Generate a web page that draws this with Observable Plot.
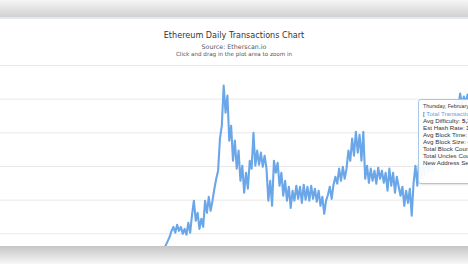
<!DOCTYPE html>
<html>
<head>
<meta charset="utf-8">
<script src="https://cdn.jsdelivr.net/npm/d3@7"></script>
<script src="https://cdn.jsdelivr.net/npm/@observablehq/plot@0.6"></script>
<style>
  html, body { margin: 0; padding: 0; }
  body { width: 468px; height: 264px; overflow: hidden; position: relative; background: #fff; font-family: "DejaVu Sans", sans-serif; }
  #topband { position: absolute; left: 0; top: 0; width: 468px; height: 17px; background: linear-gradient(#f6f6f6, #d0d0d0); }
  #topline { position: absolute; left: 0; top: 17px; width: 468px; height: 2px; background: #e3e8ee; }
  .t { position: absolute; left: 0; width: 468px; text-align: center; white-space: nowrap; color: #333; }
  #title { top: 30px; font-size: 8.1px; line-height: 11px; }
  #sub1 { top: 43px; font-size: 6.3px; line-height: 7px; color: #555; }
  #sub2 { top: 51px; font-size: 5.6px; line-height: 7px; color: #555; }
  #chart { position: absolute; left: 0; top: 60px; }
  #tip { position: absolute; left: 418px; top: 99px; width: 120px; height: 83px; border: 1px solid #a8c6e6; border-radius: 3px; background: rgba(255,255,255,0.94); font-family: "Liberation Sans", Arial, sans-serif; color: #333; box-shadow: 1px 1px 2px rgba(0,0,0,0.12); }
  #tip div { position: absolute; left: 4px; white-space: nowrap; font-size: 6.2px; line-height: 7px; }
  #tip b { font-weight: bold; }
  #botband { position: absolute; left: 0; top: 246px; width: 468px; height: 18px; background: linear-gradient(#c6c6c6, #f7f7f7); }
</style>
</head>
<body>
<div id="topband"></div>
<div id="topline"></div>
<div class="t" id="title">Ethereum Daily Transactions Chart</div>
<div class="t" id="sub1">Source: Etherscan.io</div>
<div class="t" id="sub2">Click and drag in the plot area to zoom in</div>
<div id="chart"></div>
<div id="tip">
  <div style="top:3px;font-size:5.3px;">Thursday, February 6, 2020</div>
  <div style="top:10px;color:#333;">[ <span style="color:#6aa3e0;">Total Transactions: 1,284,313</span> ]</div>
  <div style="top:17px;">Avg Difficulty: <b>5,376.42 TH</b></div>
  <div style="top:24px;">Est Hash Rate: <b>385.37 GH/s</b></div>
  <div style="top:31px;">Avg Block Time: <b>13.43 s</b></div>
  <div style="top:38px;">Avg Block Size: <b>40,613 bytes</b></div>
  <div style="top:45px;">Total Block Count: <b>6,431</b></div>
  <div style="top:52px;">Total Uncles Count: <b>562</b></div>
  <div style="top:59px;">New Address Seen: <b>112,945</b></div>
</div>
<div id="botband"></div>
<script>
// Daily transactions (thousands), sampled every 8 days starting at startDate
const startDate = "2017-04-08";
const stepDays = 8;
const txThousands = [
  109, 124, 138, 168, 198, 228, 272, 302, 258, 317,
  272, 302, 250, 287, 243, 332, 258, 391, 496, 347,
  406, 287, 362, 302, 496, 406, 525, 421, 496, 585,
  659, 719, 957, 1053, 1351, 1150, 1277, 942, 1053, 793,
  942, 734, 868, 644, 756, 555, 704, 585, 793, 734,
  1001, 756, 868, 763, 853, 748, 830, 734, 496, 644,
  458, 793, 704, 778, 607, 704, 533, 644, 496, 600,
  443, 570, 496, 607, 510, 600, 480, 615, 503, 600,
  496, 607, 510, 585, 488, 570, 458, 525, 399, 496,
  540, 600, 510, 615, 674, 622, 734, 644, 748, 659,
  734, 868, 793, 957, 830, 1008, 853, 986, 793, 1008,
  659, 756, 629, 734, 644, 719, 622, 741, 659, 719,
  629, 704, 570, 734, 607, 704, 555, 674, 600, 533,
  600, 458, 570, 480, 585, 384, 629, 756, 607, 793,
  659, 778, 681, 808, 704, 793, 719, 853, 793, 905,
  853, 957, 898, 1016, 957, 1076, 1016, 1150, 1091, 1240,
  1180, 1292, 1210, 1270, 1225, 1284, 1240
];
const gridValues = [250, 500, 750, 1000, 1250, 1500];
const xDomain = ["2015-05-22", "2020-11-22"];
const yDomain = [0, 1500];

const start = new Date(startDate + "T00:00:00Z");
const data = txThousands.map((v, i) => ({ date: d3.utcDay.offset(start, i * stepDays), v }));

const chart = Plot.plot({
  width: 468,
  height: 210,
  marginTop: 5,
  marginBottom: 3,
  marginLeft: 0,
  marginRight: 0,
  style: { background: "transparent", overflow: "visible" },
  x: { type: "utc", domain: xDomain.map(d => new Date(d + "T00:00:00Z")), axis: null },
  y: { domain: yDomain, axis: null },
  marks: [
    Plot.ruleY(gridValues, { stroke: "#e8e8e8", strokeWidth: 1 }),
    Plot.lineY(data, { x: "date", y: "v", stroke: "#6aa6e8", strokeWidth: 2.1, strokeLinejoin: "round" })
  ]
});
document.getElementById("chart").appendChild(chart);
</script>
</body>
</html>
